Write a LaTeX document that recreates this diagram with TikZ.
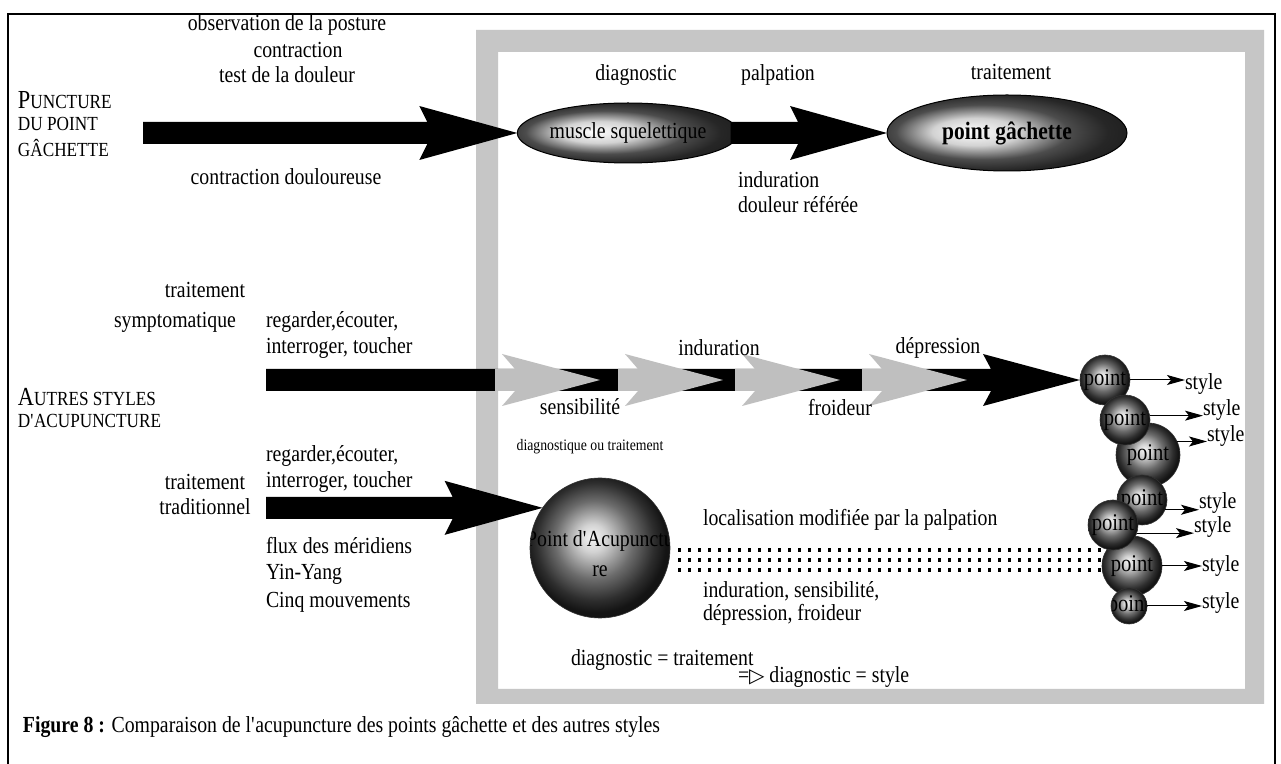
\documentclass[tikz,border=0pt]{standalone}
\usepackage{fontspec}
\setmainfont{Liberation Serif}[FakeStretch=0.86]
\newfontfamily\symfont{DejaVu Sans}
\usetikzlibrary{calc,arrows.meta,shapes.geometric}

\newcommand\lbl{\fontsize{11.5}{13}\selectfont}
\newcommand\ptfont{\fontsize{12}{12}\selectfont}
\newcommand\bigsc[2]{{\fontsize{13}{14}\selectfont #1}{\fontsize{10}{11}\selectfont #2}}
\newcommand\smsc[1]{{\fontsize{10}{11}\selectfont #1}}

\pgfdeclareradialshading{spherish}{\pgfpoint{-3bp}{4bp}}{color(0bp)=(gray!8); color(5bp)=(gray!35); color(14bp)=(black!58); color(21bp)=(black!82); color(25bp)=(black!92); color(50bp)=(black)}
\pgfdeclareradialshading{ellish}{\pgfpoint{-8bp}{1bp}}{color(0bp)=(white); color(9bp)=(gray!35); color(18bp)=(gray!60!black); color(25bp)=(black!85); color(50bp)=(black)}

% #1 style, #2 start, #3 tip, #4 head length, #5 head half, #6 shaft half, #7 sweep
\newcommand\blockarrow[7]{%
  \fill[#1] ($(#2)+(0,-#6)$) -- ($(#3)+(-#4+#7,-#6)$) -- ($(#3)+(-#4,-#5)$) -- (#3)
    -- ($(#3)+(-#4,#5)$) -- ($(#3)+(-#4+#7,#6)$) -- ($(#2)+(0,#6)$) -- cycle;}

\newcommand\ptsphere[3]{%
  \node[sph, minimum size=#3, path picture={\node at (path picture bounding box.center) {\ptfont point};}] (#1) at (#2) {};}

\begin{document}
\begin{tikzpicture}[x=0.5pt,y=-0.5pt,
  every node/.style={inner sep=0pt, outer sep=0pt, font=\lbl},
  lleft/.style={anchor=west},
  blk/.style={fill=black},
  gry/.style={fill=gray!50},
  ellnode/.style={ellipse, draw=black, line width=0.5pt, shading=ellish},
  sph/.style={circle, shading=spherish, draw=black!80, line width=0.3pt},
  thinarrow/.style={line width=0.5pt, -{Stealth[length=9pt,width=5pt,inset=2pt]}},
  dotrow/.style={line width=1.6pt, dash pattern=on 1.6pt off 3.4pt},
]
\useasboundingbox (0,0) rectangle (1281,764);
\fill[white] (0,0) rectangle (1281,764);
\draw[line width=0.6pt] (8,14) rectangle (1275,800);
\fill[gray!45, even odd rule] (476,30) rectangle (1264,704) (498,52) rectangle (1245,689);

% ---------- top: puncture du point gachette
\node (obs) at (287,25) {observation de la posture};
\node (contr) at (298,50) {contraction};
\node (test) at (287,75) {test de la douleur};
\node (cdoul) at (286,177) {contraction douloureuse};
\node[lleft] (punct) at (18,100) {\bigsc{P}{UNCTURE}};
\node[lleft] (dupt) at (18,124) {\smsc{DU POINT}};
\node[lleft] (gach) at (18,148) {\smsc{GÂCHETTE}};

\node[ellnode, minimum width=106.5pt, minimum height=30pt] (muscle) at (628,133) {muscle squelettique};
\node[ellnode, minimum width=120pt, minimum height=38pt] (pg) at (1007,133) {\fontsize{12.5}{14}\selectfont\bfseries point gâchette};

\coordinate (a1s) at (143,133);
\blockarrow{blk}{a1s}{muscle.west}{98}{27}{11}{8}
\coordinate (a2s) at ($(muscle.east)+(-8,0)$);
\blockarrow{blk}{a2s}{pg.west}{97}{27}{11}{8}

\node (diag) at (636,75) {diagnostic};
\node (palp) at (778,75) {palpation};
\node (trt) at (1011,72) {traitement};
\node[lleft] (ind1) at (738,180) {induration};
\node[lleft] (dref) at (738,205) {douleur référée};

% ---------- middle: traitement symptomatique
\node (trts) at (205,290) {traitement};
\node (sympt) at (175,322) {symptomatique};
\node[lleft] (reg1) at (266,322) {regarder,écouter,};
\node[lleft] (int1) at (266,348) {interroger, toucher};
\node[lleft] (autres) at (18,397) {\bigsc{A}{UTRES STYLES}};
\node[lleft] (dacu) at (18,421) {\smsc{D\textquotesingle ACUPUNCTURE}};

% dotted rows (under spheres)
\coordinate (d1a) at (678,550); \coordinate (d1b) at (1108,550);
\coordinate (d2a) at (678,560); \coordinate (d2b) at (1108,560);
\coordinate (d3a) at (678,570); \coordinate (d3b) at (1108,570);
\draw[dotrow] (d1a) -- (d1b);
\draw[dotrow] (d2a) -- (d2b);
\draw[dotrow] (d3a) -- (d3b);

% spheres
\ptsphere{p3}{1148,455}{32pt}
\ptsphere{p1}{1105,380}{25pt}
\ptsphere{p2}{1125,420}{25pt}
\ptsphere{p4}{1142,500}{25pt}
\ptsphere{p6}{1132,566}{30pt}
\ptsphere{p5}{1113,525}{25pt}
\ptsphere{p7}{1129,606}{18pt}

\node[lleft] (s1) at (1185,384) {style};
\node[lleft] (s2) at (1203,410) {style};
\node[lleft] (s3) at (1207,436) {style};
\node[lleft] (s4) at (1199,503) {style};
\node[lleft] (s5) at (1194,527) {style};
\node[lleft] (s6) at (1202,566) {style};
\node[lleft] (s7) at (1202,603) {style};
\draw[thinarrow] (p1.east) -- (p1.east -| s1.west);
\draw[thinarrow] (p2.10) -- (p2.10 -| s2.west);
\draw[thinarrow] (p3.25) -- (p3.25 -| s3.west);
\draw[thinarrow] (p4.-23) -- (p4.-23 -| s4.west);
\draw[thinarrow] (p5.-19) -- (p5.-19 -| s5.west);
\draw[thinarrow] (p6.east) -- (p6.east -| s6.west);
\draw[thinarrow] (p7.east) -- (p7.east -| s7.west);

\coordinate (m0) at (266,380);
\blockarrow{blk}{m0}{p1.west}{97}{26}{11}{8}
\coordinate (g1s) at (495,380); \coordinate (g1) at (600,380);
\coordinate (g2s) at (618,380); \coordinate (g2) at (723,380);
\coordinate (g3s) at (735,380); \coordinate (g3) at (840,380);
\coordinate (g4s) at (862,380); \coordinate (g4) at (967,380);
\blockarrow{gry}{g1s}{g1}{98}{26}{11}{13}
\blockarrow{gry}{g2s}{g2}{98}{26}{11}{13}
\blockarrow{gry}{g3s}{g3}{98}{26}{11}{13}
\blockarrow{gry}{g4s}{g4}{98}{26}{11}{13}

\node (ind2) at (719,348) {induration};
\node (dep) at (938,348) {dépression};
\node (sens) at (580,407) {sensibilité};
\node (froid) at (840,408) {froideur};
\node[font=\fontsize{8}{9}\selectfont] (dout) at (590,447) {diagnostique ou traitement};

% ---------- lower: traitement traditionnel
\node (trtt) at (205,482) {traitement};
\node (trad) at (205,507) {traditionnel};
\node[lleft] (reg2) at (266,456) {regarder,écouter,};
\node[lleft] (int2) at (266,482) {interroger, toucher};
\node[lleft] (flux) at (266,546) {flux des méridiens};
\node[lleft] (yy) at (266,574) {Yin-Yang};
\node[lleft] (cinq) at (266,602) {Cinq mouvements};

\node[sph, minimum size=70pt, path picture={\node[align=center, font=\lbl] at ($(path picture bounding box.center)+(0,6)$) {Point d\textquotesingle Acupunctu\\[2pt]re};}] (acu) at (600,548) {};
\coordinate (l0) at (266,508);
\blockarrow{blk}{l0}{acu.145}{98}{27}{11}{8}

\node[lleft] (loc) at (703,520) {localisation modifiée par la palpation};
\node[lleft] (ind3) at (703,591) {induration, sensibilité,};
\node[lleft] (dep2) at (703,615) {dépression, froideur};
\node[lleft] (dt) at (571,660) {diagnostic = traitement};
\node[lleft] (ds) at (738,677) {={\symfont\fontsize{10}{10}\selectfont ▷} diagnostic = style};

% caption
\node[lleft] (cap) at (23,727) {{\bfseries Figure 8 :} Comparaison de l\textquotesingle acupuncture des points gâchette et des autres styles};
\end{tikzpicture}
\end{document}
